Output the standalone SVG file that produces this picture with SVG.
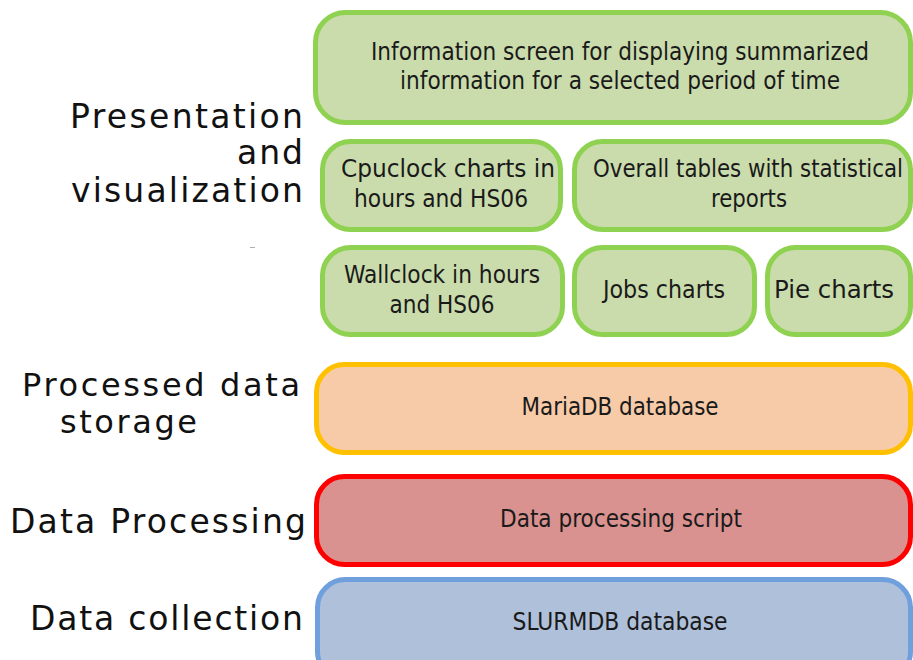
<svg xmlns="http://www.w3.org/2000/svg" width="913" height="660" viewBox="0 0 913 660">
<style>
.lbl{font-family:"DejaVu Sans",Verdana,sans-serif;font-size:33px;fill:#111}
.sm{font-size:32px}
.t{font-family:"DejaVu Sans Condensed","DejaVu Sans",sans-serif;font-size:24px;fill:#1a1a1a;text-anchor:middle}
.g{fill:#cadcac;stroke:#8fd150;stroke-width:5}
.o{fill:#f8cba8;stroke:#ffc000;stroke-width:5}
.r{fill:#d9928f;stroke:#ff0000;stroke-width:5}
.b{fill:#afc1da;stroke:#6f9fdc;stroke-width:5}
</style>
<rect width="913" height="660" fill="#ffffff"/>
<g id="labels">
<text class="lbl" x="303" y="128" text-anchor="end" textLength="233">Presentation</text>
<text class="lbl" x="303" y="164" text-anchor="end" textLength="66">and</text>
<text class="lbl" x="303" y="202" text-anchor="end" textLength="232">visualization</text>
<text class="lbl sm" x="22" y="396" textLength="278">Processed data</text>
<text class="lbl sm" x="60" y="433" textLength="137">storage</text>
<text class="lbl" x="10" y="533" textLength="296">Data Processing</text>
<text class="lbl" x="30" y="630" textLength="273">Data collection</text>
<rect x="250" y="247" width="5" height="1" fill="#b0b0b0"/>
</g>
<g id="connectors"></g>
<g id="info">
<rect class="g" x="315.5" y="12.5" width="595" height="110" rx="30"/>
<text class="t" x="620" y="60" textLength="498" lengthAdjust="spacingAndGlyphs">Information screen for displaying summarized</text>
<text class="t" x="620" y="89" textLength="440" lengthAdjust="spacingAndGlyphs">information for a selected period of time</text>
</g>
<g id="cpuclock">
<rect class="g" x="322.5" y="141.5" width="238" height="88" rx="28"/>
<text class="t" x="448" y="177" textLength="214" lengthAdjust="spacingAndGlyphs">Cpuclock charts in</text>
<text class="t" x="441" y="207" textLength="174" lengthAdjust="spacingAndGlyphs">hours and HS06</text>
</g>
<g id="overall">
<rect class="g" x="574.5" y="141.5" width="336" height="88" rx="28"/>
<text class="t" x="748" y="177" textLength="310" lengthAdjust="spacingAndGlyphs">Overall tables with statistical</text>
<text class="t" x="749" y="207" textLength="76" lengthAdjust="spacingAndGlyphs">reports</text>
</g>
<g id="wallclock">
<rect class="g" x="322.5" y="247.5" width="240" height="87" rx="28"/>
<text class="t" x="442" y="283" textLength="196" lengthAdjust="spacingAndGlyphs">Wallclock in hours</text>
<text class="t" x="442" y="313" textLength="105" lengthAdjust="spacingAndGlyphs">and HS06</text>
</g>
<g id="jobs">
<rect class="g" x="574.5" y="247.5" width="180" height="87" rx="28"/>
<text class="t" x="664" y="298" textLength="122" lengthAdjust="spacingAndGlyphs">Jobs charts</text>
</g>
<g id="pie">
<rect class="g" x="767.5" y="247.5" width="143" height="87" rx="28"/>
<text class="t" x="834" y="298" textLength="120" lengthAdjust="spacingAndGlyphs">Pie charts</text>
</g>
<g id="mariadb">
<rect class="o" x="316.5" y="364.5" width="594" height="88" rx="28"/>
<text class="t" x="620" y="415" textLength="197" lengthAdjust="spacingAndGlyphs">MariaDB database</text>
</g>
<g id="processing">
<rect class="r" x="316.5" y="476.5" width="594" height="88" rx="28"/>
<text class="t" x="621" y="527" textLength="242" lengthAdjust="spacingAndGlyphs">Data processing script</text>
</g>
<g id="slurmdb">
<rect class="b" x="317.5" y="579.5" width="593" height="100" rx="28"/>
<text class="t" x="620" y="630" textLength="215" lengthAdjust="spacingAndGlyphs">SLURMDB database</text>
</g>
</svg>
